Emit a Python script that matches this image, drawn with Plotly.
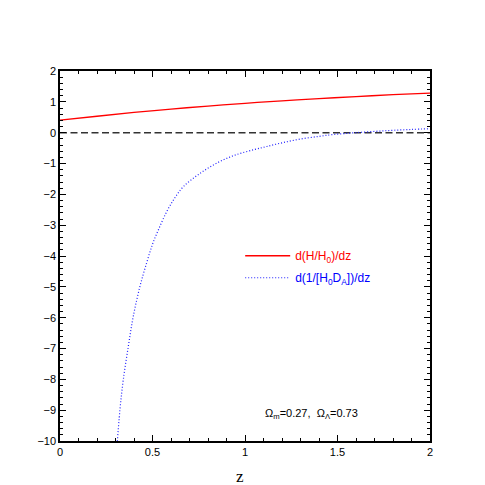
import plotly.graph_objects as go

# values
z_red = [0.0, 0.2, 0.4, 0.6, 0.8, 1.0, 1.2, 1.4, 1.6, 1.8, 2.0]
dH_dz = [0.405, 0.533, 0.655, 0.765, 0.864, 0.953, 1.032, 1.104, 1.170, 1.231, 1.284]

z_blue = [0.305, 0.324, 0.342, 0.369, 0.396, 0.432, 0.468, 0.50, 0.532, 0.577,
          0.62, 0.667, 0.757, 0.856, 0.95, 1.05, 1.117, 1.2, 1.297, 1.4,
          1.477, 1.6, 1.766, 1.9, 2.0]
dDA_dz = [-10.4, -8.99, -8.02, -6.94, -5.96, -4.99, -4.23, -3.62, -3.15, -2.56,
          -2.12, -1.75, -1.32, -0.96, -0.72, -0.55, -0.45, -0.33, -0.21, -0.12,
          -0.06, 0.0, 0.065, 0.105, 0.13]

z_zero = [0.0, 2.0]
zero = [0.0, 0.0]

x_ticks = [0, 0.5, 1, 1.5, 2]
x_labels = ["0", "0.5", "1", "1.5", "2"]
y_ticks = list(range(-10, 3))

FONT = "Liberation Sans"

fig = go.Figure()

fig.add_trace(go.Scatter(
    x=z_zero, y=zero, mode='lines',
    line=dict(color='#333333', width=1.5, dash='7px,3.5px'),
    showlegend=False, hoverinfo='skip'
))

fig.add_trace(go.Scatter(
    x=z_red, y=dH_dz, mode='lines', line_shape='spline',
    line=dict(color='red', width=1.3),
    legendgroup='a',
    name='<span style="color:red">d(H/H<sub>0</sub>)/dz</span>'
))

fig.add_trace(go.Scatter(
    x=z_blue, y=dDA_dz, mode='lines', line_shape='spline',
    line=dict(color='#2020ff', width=1.2, dash='1px,2px'),
    legendgroup='b',
    name='<span style="color:blue">d(1/[H<sub>0</sub>D<sub>A</sub>])/dz</span>'
))

fig.add_annotation(
    x=1.357, y=-9.12, xref='x', yref='y', showarrow=False,
    text='Ω<sub>m</sub>=0.27,  Ω<sub>Λ</sub>=0.73',
    font=dict(family=FONT, size=11, color='black')
)

# x axis title as an annotation so it does not push the margins
fig.add_annotation(
    x=0.973, y=0, xref='x', yref='paper', yshift=-35, yanchor='middle',
    showarrow=False, text='z',
    font=dict(family='Liberation Serif', size=17, color='black')
)

axis_common = dict(
    showgrid=False, zeroline=False, showline=True,
    linecolor='black', linewidth=1.5, mirror='allticks',
    ticks='inside', ticklen=6, tickwidth=1.2, tickcolor='black',
    tickfont=dict(family=FONT, size=11, color='black'),
    automargin=False,
)

fig.update_xaxes(
    range=[0, 2], tickvals=x_ticks, ticktext=x_labels,
    minor=dict(dtick=0.1, ticks='inside', ticklen=3, tickcolor='black', tickwidth=1),
    **axis_common
)
fig.update_yaxes(
    range=[-10, 2], tickvals=y_ticks,
    minor=dict(dtick=0.2, ticks='inside', ticklen=3, tickcolor='black', tickwidth=1),
    **axis_common
)

fig.update_layout(
    width=485, height=485,
    margin=dict(l=52, r=63, t=63, b=52),
    plot_bgcolor='white', paper_bgcolor='white',
    legend=dict(
        x=0.487, y=0.471, xanchor='left', yanchor='middle',
        bgcolor='rgba(0,0,0,0)', font=dict(family=FONT, size=12),
        itemwidth=45, tracegroupgap=3
    ),
)

fig.write_html("out.html")
